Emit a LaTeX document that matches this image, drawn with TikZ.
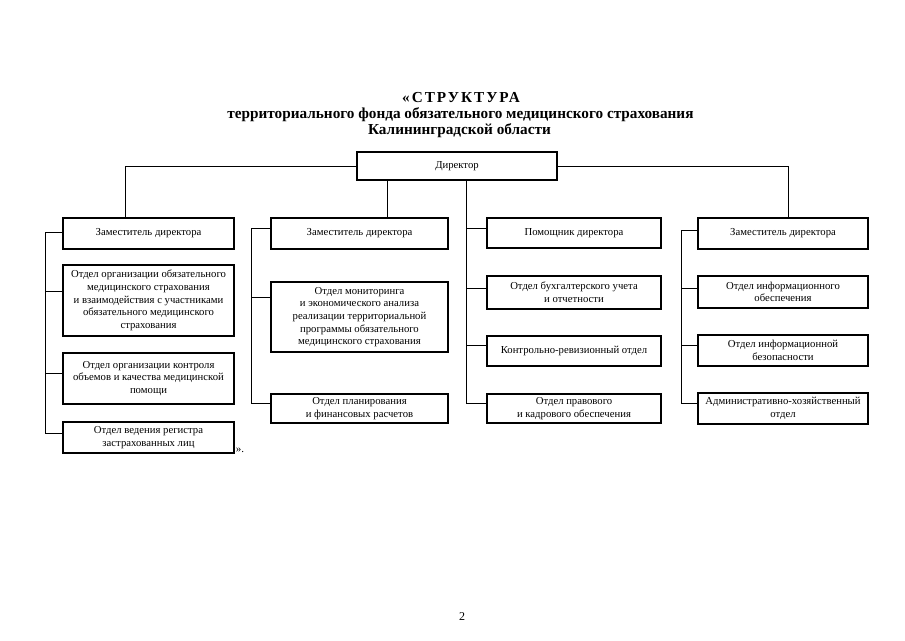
\documentclass[tikz,border=0pt]{standalone}
\usepackage{fontspec}
\setmainfont{Liberation Serif}
\begin{document}
\begin{tikzpicture}[x=1pt,y=-1pt,
  bx/.style={draw, line width=1.2pt, align=center, inner sep=1pt,
    font=\fontsize{10.7}{12.6}\selectfont},
  sz/.style n args={2}{minimum width=#1pt, minimum height=#2pt},
  ln/.style={line width=1pt},
  ttl/.style={font=\fontsize{15.25}{17}\selectfont\bfseries, inner sep=0pt}]
\useasboundingbox (0,0) rectangle (905,640);
% title
\node[ttl] (ttl1) at (461,97.5) {\addfontfeature{LetterSpace=13}«СТРУКТУРА};
\node[ttl] (ttl2) at (460.5,114.5) {территориального фонда обязательного медицинского страхования};
\node[ttl] (ttl3) at (459.5,131) {Калининградской области};
% director
\node[bx, sz={200}{28}] (dir) at (457,166) {Директор};
% column 1
\node[bx, sz={171}{31}] (z1) at (148.5,233.5) {Заместитель директора};
\node[bx, sz={171}{71}] (a1) at (148.5,300.5) {Отдел организации обязательного\\медицинского страхования\\и взаимодействия с участниками\\обязательного медицинского\\страхования};
\node[bx, sz={171}{51}] (b1) at (148.5,378.5) {Отдел организации контроля\\объемов и качества медицинской\\помощи};
\node[bx, sz={171}{31}] (c1) at (148.5,437.5) {Отдел ведения регистра\\застрахованных лиц};
\node[anchor=south west, inner sep=1pt, font=\fontsize{11}{12}\selectfont] (endq) at (c1.south east) {».};
% column 2
\node[bx, sz={177}{31}] (z2) at (359.5,233.5) {Заместитель директора};
\node[bx, sz={177}{70}] (a2) at (359.5,317) {Отдел мониторинга\\и экономического анализа\\реализации территориальной\\программы обязательного\\медицинского страхования};
\node[bx, sz={177}{29}] (b2) at (359.5,408.5) {Отдел планирования\\и финансовых расчетов};
% column 3
\node[bx, sz={174}{30}] (z3) at (574,233) {Помощник директора};
\node[bx, sz={174}{33}] (a3) at (574,292.5) {Отдел бухгалтерского учета\\и отчетности};
\node[bx, sz={174}{30}] (b3) at (574,351) {Контрольно-ревизионный отдел};
\node[bx, sz={174}{29}] (c3) at (574,408.5) {Отдел правового\\и кадрового обеспечения};
% column 4
\node[bx, sz={170}{31}] (z4) at (783,233.5) {Заместитель директора};
\node[bx, sz={170}{32}] (a4) at (783,292) {Отдел информационного\\обеспечения};
\node[bx, sz={170}{31}] (b4) at (783,350.5) {Отдел информационной\\безопасности};
\node[bx, sz={170}{31}] (c4) at (783,408.5) {Административно-хозяйственный\\отдел};
% page number
\node[font=\fontsize{12}{14}\selectfont, inner sep=0pt] (pg) at (462,617) {2};
% trunks
\coordinate (t1) at (45,0);
\coordinate (t2) at (251,0);
\coordinate (t3) at (466,0);
\coordinate (t4) at (681,0);
% connector points
\coordinate (pz1) at ([yshift=1.5pt]z1.west);
\coordinate (pa1) at ([yshift=9.5pt]a1.west);
\coordinate (pb1) at ([yshift=5.5pt]b1.west);
\coordinate (pc1) at ([yshift=4.5pt]c1.west);
\coordinate (pz2) at ([yshift=5.5pt]z2.west);
\coordinate (pa2) at ([yshift=20pt]a2.west);
\coordinate (pb2) at ([yshift=5.5pt]b2.west);
\coordinate (pz3) at ([yshift=5pt]z3.west);
\coordinate (pa3) at ([yshift=4.5pt]a3.west);
\coordinate (pb3) at ([yshift=6pt]b3.west);
\coordinate (pc3) at ([yshift=5.5pt]c3.west);
\coordinate (pz4) at ([yshift=3.5pt]z4.west);
\coordinate (pa4) at ([yshift=4pt]a4.west);
\coordinate (pb4) at ([yshift=5.5pt]b4.west);
\coordinate (pc4) at ([yshift=5.5pt]c4.west);
% director links
\coordinate (d1) at ([xshift=-23.5pt]z1.north);
\coordinate (d2) at ([xshift=27.5pt]z2.north);
\coordinate (d4) at ([xshift=5pt]z4.north);
\draw[ln] (dir.west) -| (d1);
\draw[ln] (dir.east) -| (d4);
\draw[ln] (dir.south -| d2) -- (d2);
\draw[ln] (dir.south -| t3) -- (pc3 -| t3);
% column trunks
\draw[ln] (pz1 -| t1) -- (pc1 -| t1);
\draw[ln] (pz2 -| t2) -- (pb2 -| t2);
\draw[ln] (pz4 -| t4) -- (pc4 -| t4);
% branches
\foreach \p/\t in {pz1/t1,pa1/t1,pb1/t1,pc1/t1,pz2/t2,pa2/t2,pb2/t2,pz3/t3,pa3/t3,pb3/t3,pc3/t3,pz4/t4,pa4/t4,pb4/t4,pc4/t4}
  \draw[ln] (\p -| \t) -- (\p);
\end{tikzpicture}
\end{document}
